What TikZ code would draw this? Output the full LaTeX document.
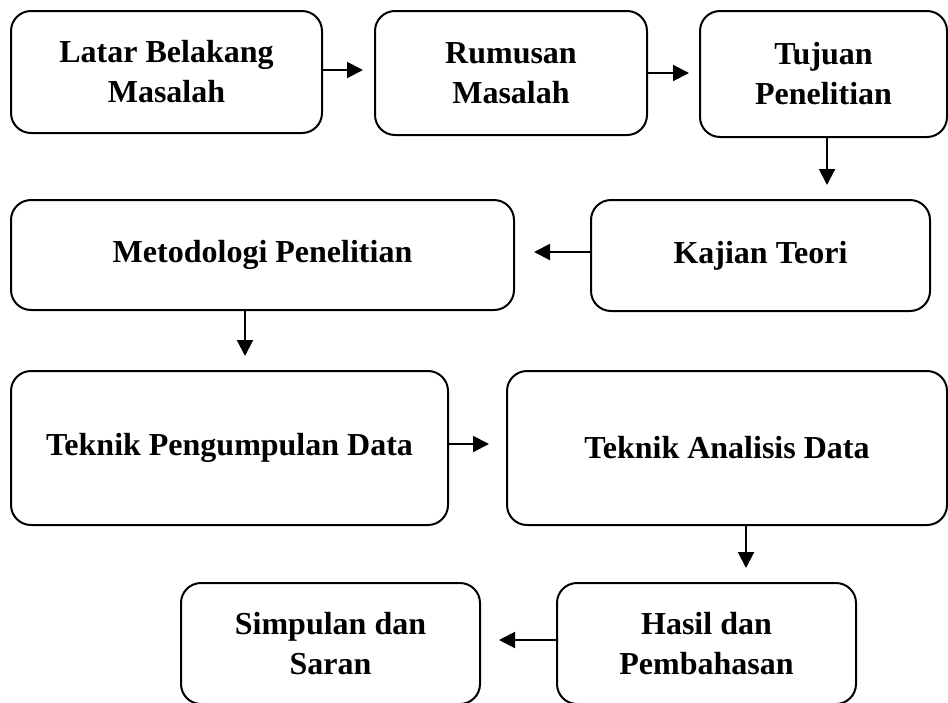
\documentclass[tikz,border=0pt]{standalone}
\usepackage{fontspec}
\setmainfont{Liberation Serif}
\usepackage{tikz}
\usetikzlibrary{arrows.meta}

\begin{document}
\begin{tikzpicture}[x=0.5pt,y=-0.5pt,
        stage/.style={draw,rounded corners=10pt,line width=1pt,align=center,
            inner sep=0pt,outer sep=0pt,font=\bfseries\fontsize{16}{20}\selectfont},
        flow/.style={-{Triangle[length=8pt,width=8pt]},line width=1pt}]
        \useasboundingbox (0,0) rectangle (948,702);
        % Tahap penelitian
        \draw (166.5,72) node[stage,minimum width=155.5pt,minimum height=61pt](latar) {Latar Belakang\\Masalah};
        \draw (511,73) node[stage,minimum width=136pt,minimum height=62pt](rumusan) {Rumusan\\Masalah};
        \draw (823.5,74) node[stage,minimum width=123.5pt,minimum height=63pt](tujuan) {Tujuan\\Penelitian};
        \draw (760.5,255.5) node[stage,minimum width=169.5pt,minimum height=55.5pt](kajian) {Kajian Teori};
        \draw (262.5,255) node[stage,minimum width=251.5pt,minimum height=55pt](metodologi) {Metodologi Penelitian};
        \draw (229.5,448) node[stage,minimum width=218.5pt,minimum height=77pt](pengumpulan) {Teknik Pengumpulan Data};
        \draw (727,448) node[stage,minimum width=220pt,minimum height=77pt](analisis) {Teknik Analisis Data};
        \draw (706.5,643.5) node[stage,minimum width=149.5pt,minimum height=60.5pt](hasil) {Hasil dan\\Pembahasan};
        \draw (330.5,643.5) node[stage,minimum width=149.5pt,minimum height=60.5pt](simpulan) {Simpulan dan\\Saran};
        % Alur
        \draw[flow,shorten >=6pt] ([yshift=1pt]latar.east) -- ([yshift=1pt]latar.east -| rumusan.west);
        \draw[flow,shorten >=5.5pt] (rumusan.east) -- (rumusan.east -| tujuan.west);
        \draw[flow,shorten >=7.5pt] ([xshift=1.75pt]tujuan.south) -- ([xshift=1.75pt]tujuan.south |- kajian.north);
        \draw[flow,shorten >=10pt] ([yshift=1.75pt]kajian.west) -- ([yshift=1.75pt]kajian.west -| metodologi.east);
        \draw[flow,shorten >=7.5pt] ([xshift=-8.75pt]metodologi.south) -- ([xshift=-8.75pt]metodologi.south |- pengumpulan.north);
        \draw[flow,shorten >=9pt] ([yshift=2pt]pengumpulan.east) -- ([yshift=2pt]pengumpulan.east -| analisis.west);
        \draw[flow,shorten >=7.5pt] ([xshift=9.5pt]analisis.south) -- ([xshift=9.5pt]analisis.south |- hasil.north);
        \draw[flow,shorten >=9.5pt] ([yshift=1.75pt]hasil.west) -- ([yshift=1.75pt]hasil.west -| simpulan.east);
\end{tikzpicture}
\end{document}
